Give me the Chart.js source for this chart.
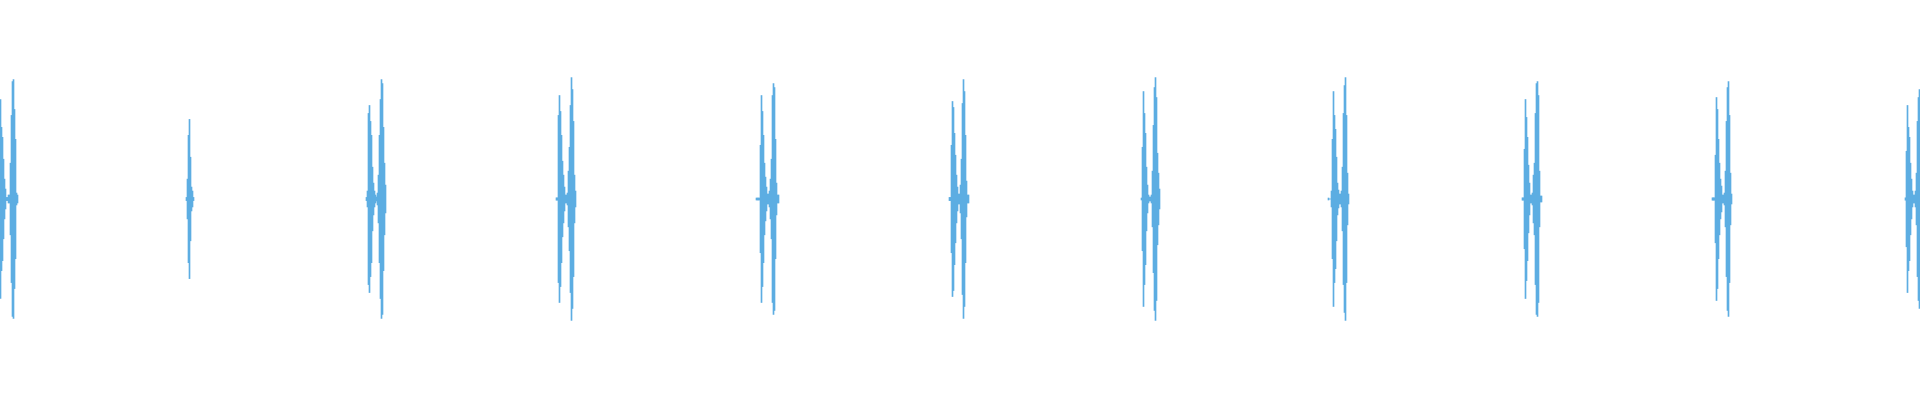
<!DOCTYPE html>
<html lang="en">
<head>
    <meta charset="UTF-8">
    <title>Heartbeat Waveform</title>
    <script src="https://cdn.jsdelivr.net/npm/chart.js"></script>
    <style>
        html, body {
            margin: 0;
            padding: 0;
            background: #ffffff;
        }
        #wave {
            display: block;
        }
    </style>
</head>
<body>
    <canvas id="wave" width="1920" height="400"></canvas>

    <script>
        // First frame of each heart sound (one frame = one screen column)
        const burstStart = [0, 186, 366, 556, 756, 949, 1141, 1328, 1522, 1712, 1905];

        // Peak amplitude per frame for each burst (full scale = 1)
        const burst1 = [0.50, 0.36, 0.31, 0.20, 0.10, 0.05, 0.008, 0.008, 0.02, 0.02, 0.18, 0.42, 0.59, 0.60, 0.45, 0.30, 0.03, 0.02];
        const burst2 = [0.008, 0.10, 0.32, 0.40, 0.21, 0.06, 0.04, 0.008];
        const burst3 = [0.008, 0.04, 0.43, 0.47, 0.39, 0.32, 0.16, 0.08, 0.04, 0.02, 0.01, 0.03, 0.12, 0.32, 0.50, 0.60, 0.58, 0.36, 0.18, 0.07];
        const burst4 = [0.006, 0.006, 0.42, 0.52, 0.44, 0.32, 0.19, 0.12, 0.06, 0.02, 0.02, 0.03, 0.14, 0.26, 0.47, 0.61, 0.55, 0.39, 0.12, 0.04];
        const burst5 = [0.005, 0.005, 0.005, 0.005, 0.27, 0.52, 0.44, 0.32, 0.18, 0.11, 0.06, 0.025, 0.025, 0.04, 0.10, 0.20, 0.52, 0.58, 0.56, 0.30, 0.08, 0.02, 0.02];
        const burst6 = [0.008, 0.008, 0.27, 0.49, 0.46, 0.33, 0.22, 0.12, 0.06, 0.025, 0.025, 0.07, 0.20, 0.48, 0.60, 0.54, 0.32, 0.09, 0.02, 0.02];
        const burst7 = [0.005, 0.26, 0.54, 0.43, 0.33, 0.16, 0.07, 0.02, 0.01, 0.01, 0.02, 0.14, 0.37, 0.56, 0.61, 0.51, 0.23, 0.13, 0.05];
        const burst8 = [0.005, 0, 0, 0.04, 0.30, 0.54, 0.42, 0.35, 0.21, 0.08, 0.045, 0.025, 0.025, 0.04, 0.16, 0.43, 0.57, 0.61, 0.42, 0.13, 0.025];
        const burst9 = [0.006, 0.006, 0.25, 0.50, 0.41, 0.31, 0.17, 0.08, 0.02, 0.02, 0.03, 0.12, 0.18, 0.43, 0.58, 0.59, 0.52, 0.14, 0.015, 0.015];
        const burst10 = [0.006, 0.006, 0.006, 0.22, 0.51, 0.45, 0.30, 0.18, 0.10, 0.065, 0.02, 0.02, 0.03, 0.14, 0.39, 0.56, 0.59, 0.42, 0.13, 0.025];
        const burst11 = [0.006, 0.24, 0.47, 0.36, 0.31, 0.18, 0.10, 0.04, 0.02, 0.02, 0.04, 0.13, 0.39, 0.51, 0.55];

        const bursts = [burst1, burst2, burst3, burst4, burst5, burst6, burst7, burst8, burst9, burst10, burst11];

        // min/max column per frame, like an audio editor overview
        const columns = [];
        bursts.forEach((env, b) => {
            env.forEach((a, i) => {
                columns.push({ x: burstStart[b] + i, y: [-a, a] });
            });
        });

        new Chart(document.getElementById('wave'), {
            type: 'bar',
            data: {
                datasets: [{
                    label: 'Amplitude',
                    data: columns,
                    backgroundColor: '#5DADE2',
                    borderWidth: 0,
                    barThickness: 1
                }]
            },
            options: {
                responsive: false,
                animation: false,
                layout: { padding: 0 },
                plugins: {
                    legend: { display: false },
                    tooltip: { enabled: false }
                },
                scales: {
                    x: {
                        type: 'linear',
                        min: -0.5,
                        max: 1919.5,
                        offset: false,
                        display: false
                    },
                    y: {
                        min: -1.01,
                        max: 1,
                        display: false
                    }
                }
            }
        });
    </script>
</body>
</html>
